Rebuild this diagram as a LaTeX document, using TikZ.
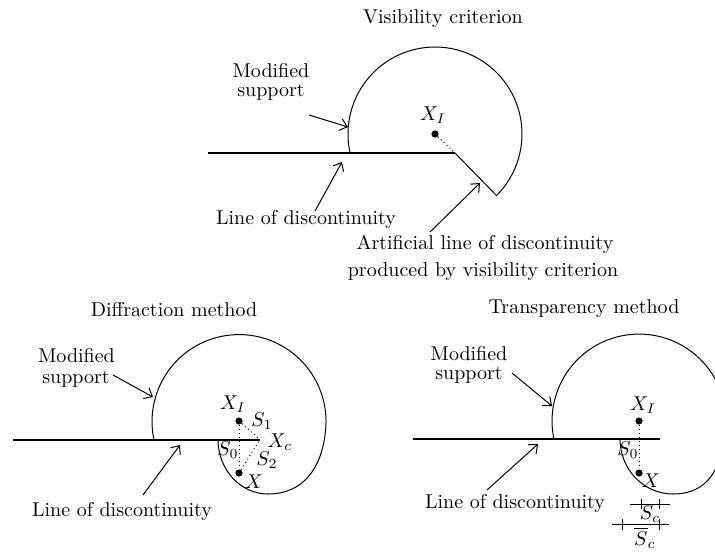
\documentclass[tikz,border=0pt]{standalone}
\usetikzlibrary{arrows.meta}
\begin{document}
\begin{tikzpicture}[x=0.5pt,y=0.5pt,
  outline/.style={line width=0.5pt},
  disc/.style={line width=1pt},
  arr/.style={line width=0.5pt,-{Straight Barb[length=3.5pt,width=6pt]}},
  dotl/.style={line width=0.5pt,dash pattern=on 0.5pt off 1.5pt},
  pt/.style={fill,circle,inner sep=0pt,minimum size=3.6pt},
  lbl/.style={inner sep=0pt,anchor=base,font=\fontsize{10}{12}\selectfont},
  mlbl/.style={inner sep=0pt,font=\fontsize{10}{12}\selectfont},
  bar/.style={line width=0.5pt}]
\useasboundingbox (0,0) rectangle (715,-552);
\clip (0,0) rectangle (715,-552);

% ---------- Visibility criterion ----------
\node[lbl] (t1) at (443,-23) {Visibility criterion};
\coordinate (s1) at (208,-153);
\coordinate (e1) at (455,-153);
\draw[disc] (s1) -- (e1);
\draw[outline] (350.1,-153) arc[start angle=192.6,end angle=-45,radius=87] -- (e1);
\node[pt] (xi1) at (435,-134) {};
\node[mlbl] (xil1) at (433,-115) {$X_I$};
\draw[dotl] (xi1) -- (e1);
\node[lbl] (ms1a) at (271,-77) {Modified};
\node[lbl] (ms1b) at (271,-96) {support};
\coordinate (a1t) at (309,-115); \coordinate (a1h) at (348,-127);
\draw[arr] (a1t) -- (a1h);
\node[lbl] (ld1) at (306,-224) {Line of discontinuity};
\coordinate (a2t) at (315,-211); \coordinate (a2h) at (342,-162);
\draw[arr] (a2t) -- (a2h);
\node[lbl] (al1) at (485,-249) {Artificial line of discontinuity};
\node[lbl] (al2) at (483,-276) {produced by visibility criterion};
\coordinate (a3t) at (430,-232); \coordinate (a3h) at (480,-183);
\draw[arr] (a3t) -- (a3h);

% ---------- Diffraction method ----------
\node[lbl] (t2) at (174,-316) {Diffraction method};
\coordinate (s2) at (13,-439.5);
\coordinate (e2) at (260,-439.5);
\draw[disc] (s2) -- (e2);
\draw[outline] (153.9,-439.5) arc[start angle=191.9,end angle=-5,radius=87]
  .. controls (322.2,-468.4) and (303,-494) .. (268,-494)
  arc[start angle=-90,end angle=-180,x radius=50,y radius=54.5];
\node[pt] (xi2) at (239,-421) {};
\node[pt] (x2) at (239,-473) {};
\draw[dotl] (xi2) -- (x2);
\draw[dotl] (xi2) -- (e2);
\draw[dotl] (x2) -- (e2);
\node[mlbl] (xil2) at (233,-404) {$X_I$};
\node[mlbl] (s12) at (262,-421) {$S_1$};
\node[mlbl] (xc2) at (280,-442) {$X_c$};
\node[mlbl] (s02) at (228,-450) {$S_0$};
\node[mlbl] (s22) at (267,-460) {$S_2$};
\node[mlbl] (xl2) at (254,-482) {$X$};
\node[lbl] (ms2a) at (76.5,-362) {Modified};
\node[lbl] (ms2b) at (76,-383) {support};
\coordinate (b1t) at (113,-375); \coordinate (b1h) at (153,-397);
\draw[arr] (b1t) -- (b1h);
\node[lbl] (ld2) at (122,-516) {Line of discontinuity};
\coordinate (b2t) at (143,-495); \coordinate (b2h) at (180,-445);
\draw[arr] (b2t) -- (b2h);

% ---------- Transparency method ----------
\node[lbl] (t3) at (584,-313) {Transparency method};
\coordinate (s3) at (413,-439);
\coordinate (e3) at (660,-439);
\draw[disc] (s3) -- (e3);
\draw[outline] (553.9,-439) arc[start angle=191.9,end angle=-5,radius=87]
  .. controls (722.2,-468.4) and (708,-494) .. (673,-494)
  arc[start angle=-90,end angle=-180,x radius=53,y radius=55];
\node[pt] (xi3) at (639,-421) {};
\node[pt] (x3) at (639,-473) {};
\draw[dotl] (xi3) -- (x3);
\node[mlbl] (xil3) at (643,-405) {$X_I$};
\node[mlbl] (s03) at (628,-450) {$S_0$};
\node[mlbl] (xl3) at (651,-481) {$X$};
\node[lbl] (ms3a) at (469,-360) {Modified};
\node[lbl] (ms3b) at (469,-379) {support};
\coordinate (c1t) at (512,-373); \coordinate (c1h) at (552,-406);
\draw[arr] (c1t) -- (c1h);
\node[lbl] (ld3) at (515,-508) {Line of discontinuity};
\coordinate (c2t) at (487,-490); \coordinate (c2h) at (538,-444);
\draw[arr] (c2t) -- (c2h);

% S_c bars
\coordinate (sa1) at (630,-504); \coordinate (sa2) at (670,-504);
\draw[bar] (sa1) -- (sa2);
\draw[bar] (641,-499) -- (641,-509);
\draw[bar] (659,-499) -- (659,-509);
\node[mlbl] (sc1) at (650,-514) {$S_c$};
\coordinate (sb1) at (612,-524); \coordinate (sb2) at (669,-524);
\draw[bar] (sb1) -- (sb2);
\draw[bar] (622,-519) -- (622,-530);
\draw[bar] (659,-519) -- (659,-530);
\node[mlbl] (sc2) at (645,-538) {$\overline{S}_c$};
\end{tikzpicture}
\end{document}
